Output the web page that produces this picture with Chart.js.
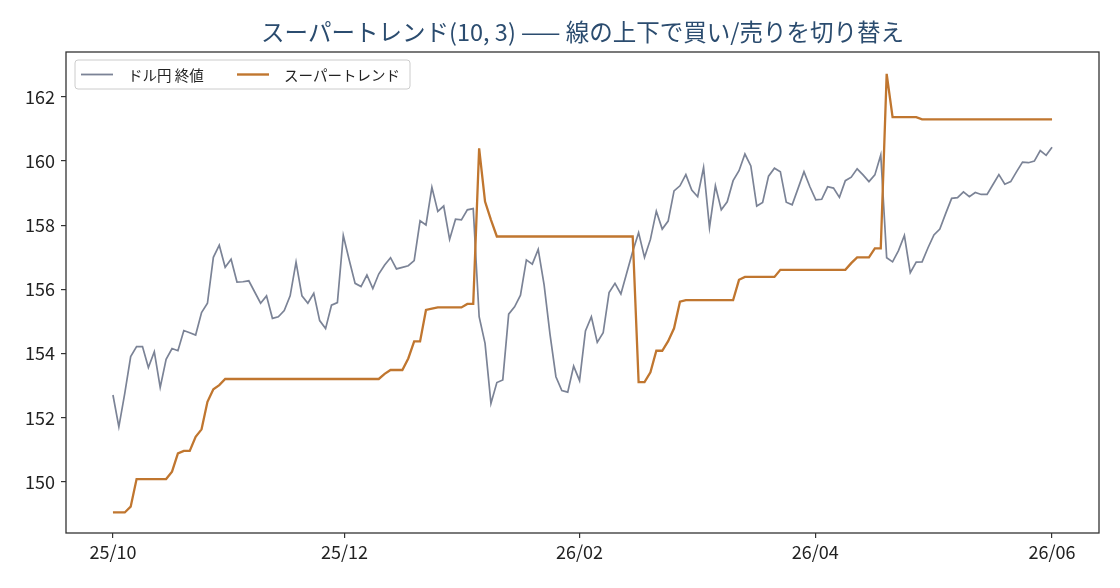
<!DOCTYPE html>
<html>
<head>
<meta charset="utf-8">
<script src="https://cdn.jsdelivr.net/npm/chart.js@4"></script>
<style>
  html, body { margin: 0; padding: 0; background: #fff; }
  canvas { display: block; }
</style>
</head>
<body>
<canvas id="chart" width="1120" height="588"></canvas>
<script>
// x positions of the month ticks, in sample index units
const tickPositions = [0, 39.2, 79, 118.9, 159];
const tickLabels = ['25/10', '25/12', '26/02', '26/04', '26/06'];
const yTicks = [150, 152, 154, 156, 158, 160, 162];

// ドル円 終値 (one value per sample)
const closePrices = [
  152.71, 151.72, 152.76, 153.91, 154.22, 154.22, 153.57, 154.06, 152.95, 153.82,
  154.16, 154.09, 154.72, 154.65, 154.58, 155.28, 155.57, 157.00, 157.38, 156.69,
  156.94, 156.23, 156.24, 156.27, 155.92, 155.57, 155.80, 155.10, 155.15, 155.34,
  155.80, 156.85, 155.80, 155.57, 155.88, 155.03, 154.78, 155.51, 155.59, 157.68,
  156.92, 156.19, 156.09, 156.45, 156.03, 156.48, 156.76, 156.99, 156.64, 156.69,
  156.74, 156.90, 158.14, 158.01, 159.18, 158.43, 158.60, 157.56, 158.19, 158.17,
  158.48, 158.52, 155.15, 154.32, 152.45, 153.10, 153.18, 155.23, 155.46, 155.82,
  156.92, 156.79, 157.25, 156.14, 154.60, 153.28, 152.85, 152.80, 153.61, 153.16,
  154.71, 155.15, 154.35, 154.65, 155.90, 156.19, 155.86, 156.52, 157.18, 157.77,
  157.00, 157.56, 158.44, 157.88, 158.13, 159.07, 159.23, 159.58, 159.10, 158.89,
  159.80, 157.93, 159.23, 158.48, 158.73, 159.39, 159.70, 160.22, 159.85, 158.60,
  158.71, 159.53, 159.78, 159.67, 158.72, 158.64, 159.15, 159.67, 159.20, 158.79,
  158.81, 159.20, 159.16, 158.87, 159.39, 159.50, 159.76, 159.57, 159.36, 159.57,
  160.19, 156.99, 156.86, 157.21, 157.68, 156.52, 156.85, 156.86, 157.30, 157.70,
  157.88, 158.37, 158.84, 158.86, 159.04, 158.89, 159.02, 158.96, 158.96, 159.27,
  159.58, 159.28, 159.36, 159.67, 159.97, 159.95, 160.00, 160.33, 160.18, 160.43,
];

// スーパートレンド line
const supertrend = [
  149.05, 149.05, 149.05, 149.23, 150.09, 150.09, 150.09, 150.09, 150.09, 150.09,
  150.32, 150.89, 150.97, 150.97, 151.41, 151.64, 152.50, 152.89, 153.02, 153.21,
  153.21, 153.21, 153.21, 153.21, 153.21, 153.21, 153.21, 153.21, 153.21, 153.21,
  153.21, 153.21, 153.21, 153.21, 153.21, 153.21, 153.21, 153.21, 153.21, 153.21,
  153.21, 153.21, 153.21, 153.21, 153.21, 153.21, 153.37, 153.49, 153.49, 153.49,
  153.85, 154.38, 154.38, 155.36, 155.40, 155.44, 155.44, 155.44, 155.44, 155.44,
  155.55, 155.55, 160.40, 158.74, 158.17, 157.65, 157.65, 157.65, 157.65, 157.65,
  157.65, 157.65, 157.65, 157.65, 157.65, 157.65, 157.65, 157.65, 157.65, 157.65,
  157.65, 157.65, 157.65, 157.65, 157.65, 157.65, 157.65, 157.65, 157.65, 153.11,
  153.11, 153.42, 154.09, 154.09, 154.39, 154.79, 155.62, 155.67, 155.67, 155.67,
  155.67, 155.67, 155.67, 155.67, 155.67, 155.67, 156.30, 156.39, 156.39, 156.39,
  156.39, 156.39, 156.39, 156.61, 156.61, 156.61, 156.61, 156.61, 156.61, 156.61,
  156.61, 156.61, 156.61, 156.61, 156.61, 156.82, 157.00, 157.00, 157.00, 157.28,
  157.28, 162.72, 161.37, 161.37, 161.37, 161.37, 161.37, 161.30, 161.30, 161.30,
  161.30, 161.30, 161.30, 161.30, 161.30, 161.30, 161.30, 161.30, 161.30, 161.30,
  161.30, 161.30, 161.30, 161.30, 161.30, 161.30, 161.30, 161.30, 161.30, 161.30,
];

const FONT = '"Noto Sans CJK JP", "Noto Sans", sans-serif';
const GRAY = '#7b8396';
const ORANGE = '#c0762f';

const toPoints = values => values.map((v, i) => ({ x: i, y: v }));

// box around the plot + legend in the top-left corner
const framePlugin = {
  id: 'frame',
  afterDraw(chart) {
    const { ctx, chartArea: a } = chart;
    ctx.save();
    ctx.strokeStyle = '#333';
    ctx.lineWidth = 1.3;
    ctx.strokeRect(a.left, a.top, a.right - a.left, a.bottom - a.top);

    // legend
    const x0 = a.left + 9, y0 = a.top + 8, w = 335, h = 29;
    ctx.fillStyle = 'rgba(255,255,255,0.8)';
    ctx.strokeStyle = '#cccccc';
    ctx.lineWidth = 1;
    ctx.beginPath();
    ctx.roundRect(x0, y0, w, h, 3);
    ctx.fill();
    ctx.stroke();

    const cy = y0 + h / 2;
    const items = [
      { label: 'ドル円 終値', color: GRAY, width: 1.8, x: x0 + 6 },
      { label: 'スーパートレンド', color: ORANGE, width: 2.4, x: x0 + 162 },
    ];
    ctx.font = `14.5px ${FONT}`;
    ctx.textBaseline = 'middle';
    items.forEach(item => {
      ctx.strokeStyle = item.color;
      ctx.lineWidth = item.width;
      ctx.beginPath();
      ctx.moveTo(item.x, cy);
      ctx.lineTo(item.x + 32, cy);
      ctx.stroke();
      ctx.fillStyle = '#222';
      ctx.fillText(item.label, item.x + 47, cy + 1);
    });
    ctx.restore();
  },
};

new Chart(document.getElementById('chart'), {
  type: 'line',
  data: {
    datasets: [
      {
        label: 'ドル円 終値',
        data: toPoints(closePrices),
        borderColor: GRAY,
        borderWidth: 1.7,
        pointRadius: 0,
        tension: 0,
        order: 1,
      },
      {
        label: 'スーパートレンド',
        data: toPoints(supertrend),
        borderColor: ORANGE,
        borderWidth: 2.3,
        pointRadius: 0,
        tension: 0,
        order: 0,
      },
    ],
  },
  options: {
    responsive: false,
    animation: false,
    devicePixelRatio: 1,
    layout: { padding: { left: 0, right: 21, top: 0, bottom: 0 } },
    plugins: {
      legend: { display: false },
      tooltip: { enabled: false },
      title: {
        display: true,
        fullSize: false,
        text: 'スーパートレンド(10, 3) —— 線の上下で買い/売りを切り替え',
        color: '#2b4c6f',
        font: { family: FONT, size: 23.5, weight: 'normal', lineHeight: 1.2 },
        padding: { top: 18, bottom: 5.8 },
      },
    },
    scales: {
      x: {
        type: 'linear',
        min: -7.95,
        max: 166.95,
        afterFit(scale) { scale.height = 55; },
        afterBuildTicks(scale) {
          scale.ticks = tickPositions.map(v => ({ value: v }));
        },
        ticks: {
          autoSkip: false,
          maxRotation: 0,
          padding: 3,
          color: '#222',
          font: { family: FONT, size: 18 },
          callback: (value, index) => tickLabels[index],
        },
        grid: { drawOnChartArea: false, drawTicks: true, tickLength: 5, color: '#333', lineWidth: 1.2 },
        border: { display: false },
      },
      y: {
        min: 148.41,
        max: 163.40,
        afterFit(scale) { scale.width = 66; },
        afterBuildTicks(scale) {
          scale.ticks = yTicks.map(v => ({ value: v }));
        },
        ticks: {
          padding: 6,
          color: '#222',
          font: { family: FONT, size: 18 },
        },
        grid: { drawOnChartArea: false, drawTicks: true, tickLength: 5, color: '#333', lineWidth: 1.2 },
        border: { display: false },
      },
    },
  },
  plugins: [framePlugin],
});
</script>
</body>
</html>
